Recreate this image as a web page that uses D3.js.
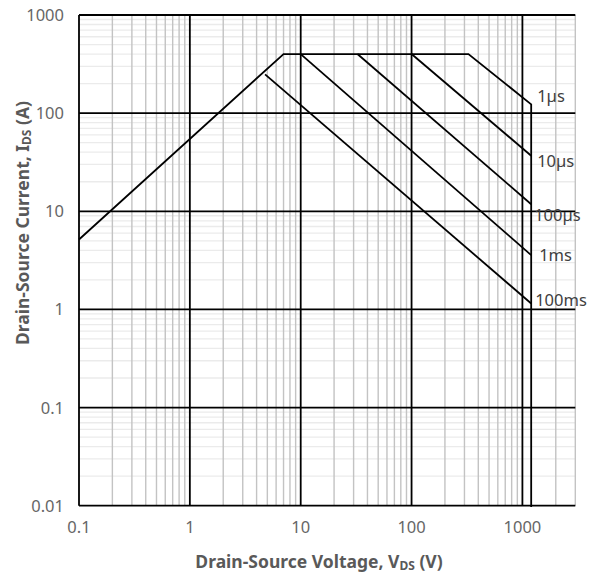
<!DOCTYPE html>
<html><head><meta charset="utf-8">
<script src="https://cdn.jsdelivr.net/npm/d3@7"></script>
<style>body{margin:0;background:#fff}svg{display:block}</style>
</head><body>
<svg id="c" width="601" height="576"></svg>
<script>
// ---- data ----
const xTicks = [0.1, 1, 10, 100, 1000];
const yTicks = [0.01, 0.1, 1, 10, 100, 1000];
const xTickLabels = ["0.1", "1", "10", "100", "1000"];
const yTickLabels = ["0.01", "0.1", "1", "10", "100", "1000"];
// outer SOA envelope (1µs curve)
const envV = [0.1, 7, 326, 1200, 1200];
const envI = [5.16, 400, 400, 123, 0.0097];
// pulse-width lines: start point -> end point at 1200 V
const pulseLabels = ["1µs", "10µs", "100µs", "1ms", "100ms"];
const startV = [326, 100, 32.5, 10, 4.77];
const startI = [400, 400, 400, 400, 248];
const endV = [1200, 1200, 1200, 1200, 1200];
const endI = [123, 36.8, 11.8, 3.58, 1.15];

const svg = d3.select("#c");
const font = "'Noto Sans','Open Sans',sans-serif";
const x = d3.scaleLog().domain([0.1, 3000]).range([79, 575.3]);
const y = d3.scaleLog().domain([0.01, 1000]).range([505.7, 15]);

// minor grid values
const minorX = [], minorY = [];
for (let d = 0.1; d < 3000; d *= 10) for (let k = 2; k <= 9; k++) { const v = d * k; if (v <= 3000.001) minorX.push(v); }
for (let d = 0.01; d < 1000; d *= 10) for (let k = 2; k <= 9; k++) minorY.push(d * k);

const g = svg.append("g");
g.selectAll(".my").data(minorY).join("line")
  .attr("x1", x(0.1)).attr("x2", x(3000)).attr("y1", d => y(d)).attr("y2", d => y(d))
  .attr("stroke", "#ebebeb").attr("stroke-width", 1.3);
g.selectAll(".mx").data(minorX).join("line")
  .attr("y1", y(0.01)).attr("y2", y(1000)).attr("x1", d => x(d)).attr("x2", d => x(d))
  .attr("stroke", "#c3c3c3").attr("stroke-width", 1.4);
g.selectAll(".My").data(yTicks).join("line")
  .attr("x1", x(0.1)).attr("x2", x(3000)).attr("y1", d => y(d)).attr("y2", d => y(d))
  .attr("stroke", "#000").attr("stroke-width", 1.8);
g.selectAll(".Mx").data(xTicks).join("line")
  .attr("y1", y(0.01)).attr("y2", y(1000)).attr("x1", d => x(d)).attr("x2", d => x(d))
  .attr("stroke", "#000").attr("stroke-width", 1.8);

// tick labels
svg.selectAll(".xt").data(xTicks).join("text")
  .attr("x", d => x(d)).attr("y", 533).attr("text-anchor", "middle")
  .attr("font-family", font).attr("font-size", 16.5).attr("fill", "#666")
  .text((d, i) => xTickLabels[i]);
svg.selectAll(".yt").data(yTicks).join("text")
  .attr("x", 64).attr("y", d => y(d) + 6).attr("text-anchor", "end")
  .attr("font-family", font).attr("font-size", 16.5).attr("fill", "#666")
  .text((d, i) => yTickLabels[i]);

// curves
const line = d3.line().x(d => x(d[0])).y(d => y(d[1]));
svg.append("path").datum(envV.map((v, i) => [v, envI[i]]))
  .attr("d", line).attr("fill", "none").attr("stroke", "#000").attr("stroke-width", 1.8)
  .attr("stroke-linejoin", "miter");
const segs = pulseLabels.map((l, i) => [[startV[i], startI[i]], [endV[i], endI[i]]]);
svg.selectAll(".seg").data(segs.slice(1)).join("path")
  .attr("d", line).attr("fill", "none").attr("stroke", "#000").attr("stroke-width", 1.8);

// curve labels
svg.selectAll(".pl").data(pulseLabels).join("text")
  .attr("x", (d, i) => x(endV[i]) + [6, 6, 3, 8, 4][i])
  .attr("y", (d, i) => y(endI[i]) + [-2, 11, 17, 6, 3][i])
  .attr("font-family", font).attr("font-size", 16.5).attr("fill", "#404040")
  .text(d => d);

// axis titles
const xt = svg.append("text").attr("x", 319).attr("y", 568).attr("text-anchor", "middle")
  .attr("font-family", font).attr("font-size", 17.5).attr("font-weight", "bold").attr("fill", "#595959");
xt.append("tspan").text("Drain-Source Voltage, V");
xt.append("tspan").attr("font-size", 12).attr("dy", 2).text("DS");
xt.append("tspan").attr("dy", -2).text(" (V)");
const yt = svg.append("text").attr("transform", "translate(29,223) rotate(-90)").attr("text-anchor", "middle")
  .attr("font-family", font).attr("font-size", 17.5).attr("font-weight", "bold").attr("fill", "#595959");
yt.append("tspan").text("Drain-Source Current, I");
yt.append("tspan").attr("font-size", 12).attr("dy", 2).text("DS");
yt.append("tspan").attr("dy", -2).text(" (A)");
</script>
</body></html>
